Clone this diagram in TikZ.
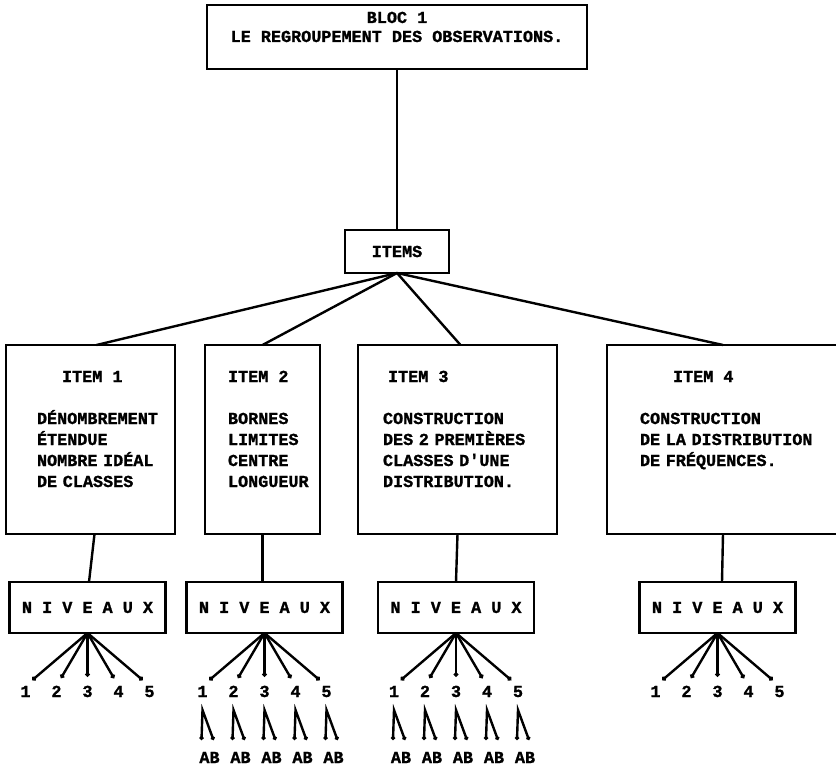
\documentclass[tikz,border=0pt]{standalone}
\usepackage{fontspec}
\newfontfamily\typew[WordSpace={1,0,0},BoldFeatures={FakeBold=1.2}]{Liberation Mono}
\usetikzlibrary{arrows.meta,calc}
\begin{document}
\begin{tikzpicture}[x=1pt,y=-1pt,
  lw/.style={line width=2.4pt},
  box/.style={draw,lw,rectangle,inner sep=0pt,outer sep=0pt},
  txt/.style={inner sep=0pt,outer sep=0pt,font=\typew\bfseries\fontsize{16.8}{21}\selectfont},
  body/.style={txt,anchor=base west,text width=230pt,align=left},
  num/.style={txt,anchor=base},
  conn/.style={lw},
  fanline/.style={lw,-{Circle[length=4.5pt]},shorten >=9pt},
  wedge/.style={lw,{Circle[length=4pt]}-{Circle[length=4pt]}}]
\useasboundingbox (0,0) rectangle (836,768);
\clip (0,0) rectangle (836,768);
\fill[white] (0,0) rectangle (836,768);

% top block
\node[box,minimum width=380pt,minimum height=64pt] (bloc) at (397,37) {};
\node[num] (bloct1) at (397,23) {BLOC 1};
\node[num] (bloct2) at (397,42) {LE REGROUPEMENT DES OBSERVATIONS.};

\node[box,txt,minimum width=104pt,minimum height=43pt] (items) at (397,251.5) {ITEMS};
\draw[conn] (bloc.south) -- (items.north);

% item boxes
\node[box,minimum width=169pt,minimum height=189pt] (item1) at (90.5,439.5) {};
\node[box,minimum width=115pt,minimum height=189pt] (item2) at (262.5,439.5) {};
\node[box,minimum width=199pt,minimum height=189pt] (item3) at (457.5,439.5) {};
\node[box,minimum width=232pt,minimum height=189pt] (item4) at (723,439.5) {};

\draw[conn] (items.south) -- ([xshift=6pt]item1.north);
\draw[conn] (items.south) -- (item2.north);
\draw[conn] (items.south) -- ([xshift=3pt]item3.north);
\draw[conn] (items.south) -- (item4.north);

% item texts
\node[txt,anchor=base west] (lab1) at (62,382) {ITEM 1};
\node[body] (txt1) at (37,424) {DÉNOMBREMENT\\ÉTENDUE\\NOMBRE IDÉAL\\DE CLASSES};
\node[txt,anchor=base west] (lab2) at (228,382) {ITEM 2};
\node[body] (txt2) at (228,424) {BORNES\\LIMITES\\CENTRE\\LONGUEUR};
\node[txt,anchor=base west] (lab3) at (388,382) {ITEM 3};
\node[body] (txt3) at (383,424) {CONSTRUCTION\\DES 2 PREMIÈRES\\CLASSES D'UNE\\DISTRIBUTION.};
\node[txt,anchor=base west] (lab4) at (673,382) {ITEM 4};
\node[body] (txt4) at (640,424) {CONSTRUCTION\\DE LA DISTRIBUTION\\DE FRÉQUENCES.};

% niveaux boxes
\foreach \g/\cx in {1/87.5,2/264.5,3/456,4/717.5}{
  \node[box,txt,minimum width=156pt,minimum height=51pt] (niv\g) at (\cx,607.5) {N I V E A U X};
}
\draw[conn] ([xshift=4pt]item1.south) -- ([xshift=1.5pt]niv1.north);
\draw[conn] (item2.south) -- ([xshift=-2pt]niv2.north);
\draw[conn] (item3.south) -- (niv3.north);
\draw[conn] (item4.south) -- ([xshift=4.5pt]niv4.north);

% level numbers
\foreach \g/\cx in {1/87.5,2/264.5,3/456,4/717.5}{
  \foreach \k/\o in {1/-62,2/-31,3/0,4/31,5/62}{
    \node[num] (n\g\k) at ({\cx+\o},697) {\k};
    \draw[fanline] (niv\g.south) -- (n\g\k.north);
  }
}

% AB sub-levels
\foreach \g/\cx in {2/264.5,3/456}{
  \foreach \k/\o in {1/-62,2/-31,3/0,4/31,5/62}{
    \node[num] (ab\g\k) at ({\cx+\o+7},763) {AB};
    \draw[wedge] ($(ab\g\k.base)+(-8,-23)$) -- ($(ab\g\k.base)+(-7,-53)$) -- ($(ab\g\k.base)+(4,-23)$);
  }
}
\end{tikzpicture}
\end{document}
